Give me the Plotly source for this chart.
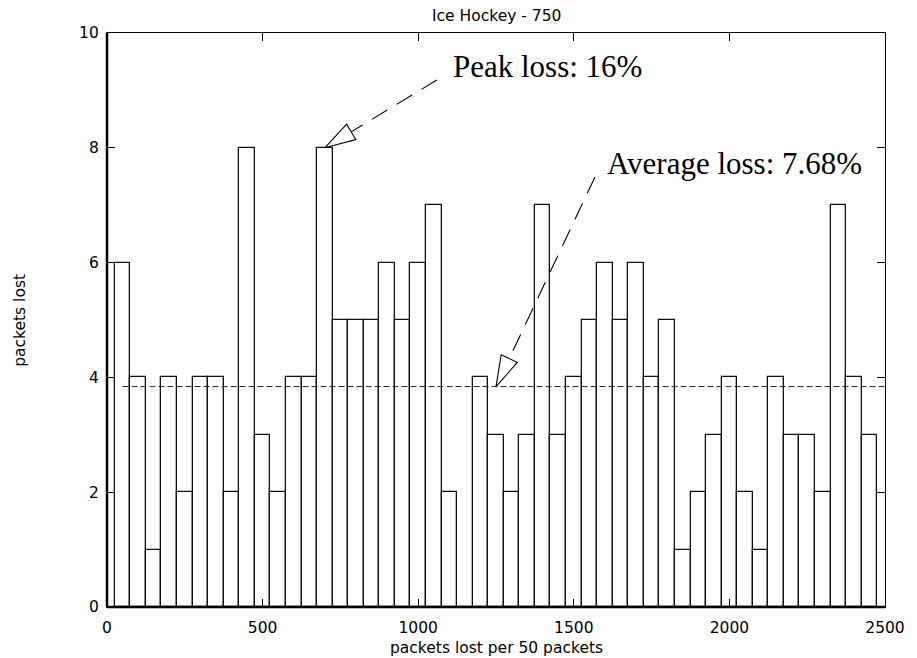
import numpy as np
import plotly.graph_objects as go

# ---- data ----
bin_centers = list(range(50, 2451, 50))
packets_lost = [6, 4, 1, 4, 2, 4, 4, 2, 8, 3, 2, 4, 4, 8, 5, 5, 5, 6, 5, 6,
                7, 2, 0, 4, 3, 2, 3, 7, 3, 4, 5, 6, 5, 6, 4, 5, 1, 2, 3, 4,
                2, 1, 4, 3, 3, 2, 7, 4, 3]
bin_width = 50
avg_level = 3.84
avg_x = [50, 2500]
x_ticks = [0, 500, 1000, 1500, 2000, 2500]
y_ticks = [0, 2, 4, 6, 8, 10]

title_text = "Ice Hockey - 750"
x_title = "packets lost per 50 packets"
y_title = "packets lost"
peak_text = "Peak loss: 16%"
avg_text = "Average loss: 7.68%"

# annotation anchors (data units)
peak_tip = (700, 8)
peak_tail = (1060, 9.18)
peak_label = (1105, 9.42)
avg_tip = (1250, avg_level)
avg_tail = (1568, 7.49)
avg_label = (1599, 7.73)

# ---- layout geometry ----
W, H = 917, 658
ML, MR, MT, MB = 107, 25, 33, 51
PW, PH = W - ML - MR, H - MT - MB
XR, YR = (0, 2500), (0, 10)
sx = PW / (XR[1] - XR[0])
sy = PH / (YR[1] - YR[0])

SANS = "DejaVu Sans"
SERIF = "Liberation Serif"
FS = 15.5

fig = go.Figure()
fig.add_trace(go.Bar(x=bin_centers, y=packets_lost, width=bin_width,
                     marker=dict(color="white", line=dict(color="#111", width=1.3)),
                     showlegend=False, hoverinfo="skip"))
fig.add_trace(go.Scatter(x=avg_x, y=[avg_level, avg_level], mode="lines",
                         line=dict(color="#222", width=1, dash="6px,3px"),
                         showlegend=False, hoverinfo="skip"))


def arrow(tip, tail, L=31, hw=9):
    # compute in pixel space, convert back to data
    tx, ty = tip[0] * sx, tip[1] * sy
    ux, uy = tail[0] * sx - tx, tail[1] * sy - ty
    n = np.hypot(ux, uy)
    ux, uy = ux / n, uy / n
    bx, by = tx + ux * L, ty + uy * L
    px_, py_ = -uy, ux
    p1 = (bx + px_ * hw, by + py_ * hw)
    p2 = (bx - px_ * hw, by - py_ * hw)
    tri_x = [tx / sx, p1[0] / sx, p2[0] / sx, tx / sx]
    tri_y = [ty / sy, p1[1] / sy, p2[1] / sy, ty / sy]
    fig.add_trace(go.Scatter(x=[tail[0], bx / sx], y=[tail[1], by / sy], mode="lines",
                             line=dict(color="black", width=1.1, dash="18px,11px"),
                             showlegend=False, hoverinfo="skip"))
    fig.add_trace(go.Scatter(x=tri_x, y=tri_y, mode="lines", fill="toself",
                             fillcolor="white", line=dict(color="black", width=1.1),
                             showlegend=False, hoverinfo="skip"))


arrow(peak_tip, peak_tail)
arrow(avg_tip, avg_tail)

axis_common = dict(showline=True, linecolor="black", linewidth=1.2, mirror="ticks",
                   ticks="inside", ticklen=8, tickwidth=1, tickcolor="black",
                   showgrid=False, zeroline=False,
                   tickfont=dict(family=SANS, size=FS, color="black"))

fig.update_layout(
    width=W, height=H, autosize=False,
    margin=dict(l=ML, r=MR, t=MT, b=MB),
    plot_bgcolor="white", paper_bgcolor="white",
    bargap=0,
    xaxis=dict(range=list(XR), tickvals=x_ticks, ticktext=[str(v) for v in x_ticks],
               ticklabelstandoff=6, **axis_common),
    yaxis=dict(range=list(YR), tickvals=y_ticks, ticktext=[str(v) for v in y_ticks],
               ticklabelstandoff=4, **axis_common),
    annotations=[
        dict(text=title_text, xref="paper", yref="paper", x=0.5, y=1 + 17 / PH,
             xanchor="center", yanchor="middle", showarrow=False,
             font=dict(family=SANS, size=FS, color="black")),
        dict(text=x_title, xref="paper", yref="paper", x=0.5, y=-41 / PH,
             xanchor="center", yanchor="middle", showarrow=False,
             font=dict(family=SANS, size=FS, color="black")),
        dict(text=y_title, xref="paper", yref="paper", x=-88 / PW, y=0.5, textangle=-90,
             xanchor="center", yanchor="middle", showarrow=False,
             font=dict(family=SANS, size=FS, color="black")),
        dict(text=peak_text, x=peak_label[0], y=peak_label[1], xref="x", yref="y",
             xanchor="left", yanchor="middle", showarrow=False,
             font=dict(family=SERIF, size=31, color="black")),
        dict(text=avg_text, x=avg_label[0], y=avg_label[1], xref="x", yref="y",
             xanchor="left", yanchor="middle", showarrow=False,
             font=dict(family=SERIF, size=31, color="black")),
    ],
    shapes=[
        dict(type="line", xref="paper", yref="paper", x0=0, x1=0, y0=0, y1=1,
             line=dict(color="black", width=2.5), layer="above"),
        dict(type="line", xref="paper", yref="paper", x0=0, x1=1, y0=0, y1=0,
             line=dict(color="black", width=2.5), layer="above"),
    ],
)

fig.write_html("out.html")
